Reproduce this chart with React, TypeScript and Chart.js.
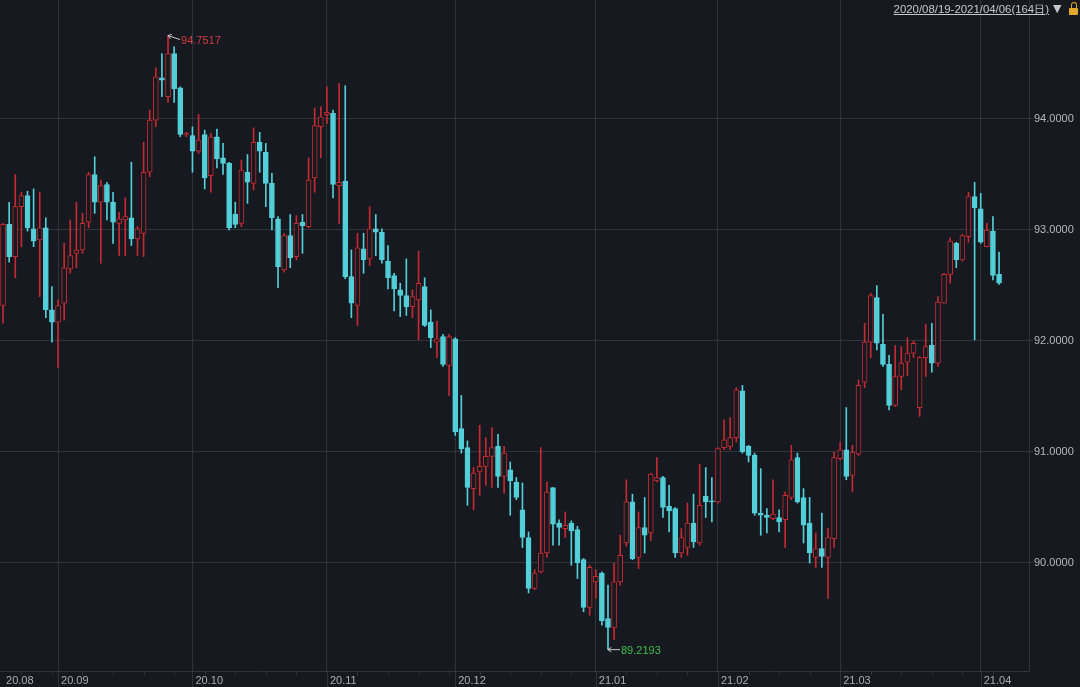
import React, { useEffect, useRef } from "react";
import { Chart, registerables } from "chart.js";
Chart.register(...registerables);

// ---- data ----
const openP = [
  92.32, 93.05, 92.76, 93.21, 93.31, 93.01, 92.91, 93.02, 92.28, 92.17,
  92.34, 92.65, 92.79, 92.82, 93.07, 93.50, 93.25, 93.41, 93.25, 93.06,
  93.09, 93.11, 92.92, 92.97, 93.52, 93.99, 94.37, 94.20, 94.59, 94.28,
  93.86, 93.85, 93.71, 93.86, 93.49, 93.84, 93.65, 93.60, 93.14, 93.06,
  93.52, 93.42, 93.79, 93.70, 93.42, 93.10, 92.64, 92.95, 92.76, 93.07,
  93.03, 93.47, 93.93, 94.04, 94.05, 93.40, 93.44, 92.58, 92.32, 92.83,
  92.74, 93.01, 92.98, 92.72, 92.59, 92.46, 92.41, 92.31, 92.37, 92.49,
  92.17, 91.99, 92.04, 91.78, 92.02, 91.21, 91.04, 90.67, 90.82, 90.87,
  90.96, 91.05, 90.78, 90.84, 90.73, 90.48, 90.23, 89.77, 89.92, 90.09,
  90.68, 90.36, 90.31, 90.36, 90.30, 90.03, 89.60, 89.83, 89.91, 89.50,
  89.42, 89.83, 90.18, 90.55, 90.05, 90.32, 90.27, 90.74, 90.77, 90.51,
  90.49, 90.09, 90.14, 90.36, 90.18, 90.60, 90.56, 90.55, 91.04, 91.05,
  91.13, 91.55, 91.05, 90.97, 90.45, 90.43, 90.40, 90.41, 90.39, 90.59,
  90.95, 90.59, 90.36, 90.05, 90.13, 90.05, 90.22, 90.94, 91.02, 90.79,
  90.98, 91.63, 91.99, 92.39, 91.97, 91.79, 91.42, 91.68, 91.81, 91.89,
  91.40, 91.85, 91.96, 91.80, 92.34, 92.60, 92.88, 92.73, 92.94, 93.30,
  93.19, 92.85, 92.99, 92.60,
];
const highP = [
  93.06, 93.25, 93.50, 93.34, 93.35, 93.37, 93.34, 93.11, 92.49, 92.37,
  92.88, 93.09, 93.25, 93.15, 93.52, 93.66, 93.45, 93.43, 93.34, 93.16,
  93.29, 93.61, 93.03, 93.79, 94.08, 94.46, 94.59, 94.7517, 94.65, 94.29,
  93.88, 93.93, 94.04, 93.90, 93.87, 93.91, 93.78, 93.61, 93.25, 93.63,
  93.68, 93.92, 93.88, 93.78, 93.51, 93.12, 92.97, 93.14, 93.13, 93.14,
  93.65, 94.10, 94.11, 94.29, 94.08, 94.32, 94.30, 92.82, 92.97, 92.97,
  93.21, 93.14, 93.01, 92.86, 92.61, 92.52, 92.74, 92.46, 92.81, 92.57,
  92.28, 92.18, 92.06, 92.06, 92.03, 91.51, 91.10, 90.86, 91.24, 91.13,
  91.22, 91.16, 91.05, 90.91, 90.77, 90.72, 90.28, 89.94, 91.04, 90.73,
  90.68, 90.39, 90.46, 90.38, 90.33, 90.04, 89.98, 89.94, 89.92, 89.80,
  90.00, 90.25, 90.75, 90.62, 90.46, 90.59, 90.81, 90.95, 90.78, 90.70,
  90.50, 90.31, 90.54, 90.62, 90.89, 90.86, 90.77, 91.04, 91.29, 91.31,
  91.58, 91.60, 91.06, 90.99, 90.85, 90.49, 90.75, 90.48, 90.64, 91.06,
  90.99, 90.67, 90.59, 90.27, 90.45, 90.31, 91.00, 91.09, 91.40, 91.06,
  91.65, 92.16, 92.43, 92.50, 92.24, 91.87, 91.96, 91.95, 92.03, 92.00,
  91.86, 92.15, 92.16, 92.40, 92.61, 92.93, 92.89, 92.96, 93.34, 93.43,
  93.33, 93.06, 93.12, 92.80,
];
const lowP = [
  92.16, 92.71, 92.57, 92.85, 92.99, 92.85, 92.40, 92.21, 91.99, 91.76,
  92.19, 92.61, 92.66, 92.79, 93.02, 93.15, 92.70, 93.09, 92.88, 92.77,
  92.77, 92.86, 92.77, 92.76, 93.48, 93.93, 94.20, 94.15, 94.15, 93.84,
  93.84, 93.52, 93.69, 93.37, 93.34, 93.56, 93.50, 93.00, 93.02, 93.03,
  93.24, 93.36, 93.52, 93.21, 93.00, 92.48, 92.62, 92.66, 92.73, 92.79,
  93.02, 93.34, 93.65, 93.96, 93.29, 93.06, 92.56, 92.21, 92.14, 92.61,
  92.68, 92.77, 92.70, 92.47, 92.27, 92.22, 92.23, 92.21, 92.01, 92.13,
  91.94, 91.85, 91.77, 91.51, 91.15, 90.99, 90.52, 90.48, 90.61, 90.70,
  90.68, 90.68, 90.63, 90.43, 90.57, 90.14, 89.73, 89.76, 89.91, 90.05,
  90.16, 90.16, 90.23, 89.98, 89.86, 89.56, 89.53, 89.68, 89.44, 89.2193,
  89.31, 89.80, 90.15, 90.03, 89.95, 90.09, 90.20, 90.73, 90.41, 90.28,
  90.05, 90.05, 90.07, 90.14, 90.16, 90.41, 90.37, 90.54, 91.02, 91.02,
  91.09, 90.99, 90.91, 90.43, 90.25, 90.27, 90.39, 90.28, 90.14, 90.57,
  90.54, 90.18, 90.00, 89.96, 89.96, 89.68, 90.14, 90.93, 90.75, 90.64,
  90.97, 91.58, 91.85, 91.92, 91.77, 91.38, 91.41, 91.56, 91.69, 91.85,
  91.32, 91.68, 91.72, 91.77, 92.34, 92.52, 92.66, 92.72, 92.89, 92.01,
  92.88, 92.85, 92.55, 92.51,
];
const closeP = [
  93.05, 92.76, 93.21, 93.31, 93.02, 92.90, 93.02, 92.28, 92.17, 92.32,
  92.66, 92.77, 92.82, 93.06, 93.50, 93.25, 93.40, 93.25, 93.07, 93.10,
  93.12, 92.92, 93.01, 93.52, 93.99, 94.38, 94.35, 94.59, 94.27, 93.86,
  93.87, 93.71, 93.81, 93.47, 93.84, 93.64, 93.60, 93.02, 93.05, 93.54,
  93.43, 93.79, 93.71, 93.42, 93.11, 92.67, 92.95, 92.75, 93.06, 93.04,
  93.45, 93.94, 94.02, 94.06, 93.41, 93.43, 92.58, 92.34, 92.84, 92.73,
  93.01, 92.98, 92.73, 92.57, 92.47, 92.41, 92.31, 92.40, 92.52, 92.14,
  92.03, 92.02, 91.79, 92.04, 91.18, 91.03, 90.68, 90.81, 90.87, 90.96,
  91.04, 90.78, 90.99, 90.74, 90.59, 90.23, 89.77, 89.91, 90.09, 90.64,
  90.35, 90.32, 90.34, 90.29, 90.00, 89.60, 89.96, 89.88, 89.48, 89.42,
  89.83, 90.07, 90.55, 90.04, 90.32, 90.25, 90.80, 90.77, 90.50, 90.47,
  90.09, 90.23, 90.36, 90.19, 90.52, 90.55, 90.55, 91.03, 91.11, 91.13,
  91.56, 91.00, 90.97, 90.45, 90.43, 90.41, 90.44, 90.37, 90.61, 90.93,
  90.55, 90.34, 90.09, 90.13, 90.06, 90.23, 90.95, 91.02, 90.78, 91.00,
  91.60, 91.99, 92.41, 91.98, 91.79, 91.42, 91.68, 91.80, 91.89, 91.98,
  91.85, 91.95, 91.80, 92.35, 92.60, 92.90, 92.73, 92.95, 93.30, 93.20,
  92.89, 93.00, 92.59, 92.52,
];
const yTickValues = [90, 91, 92, 93, 94];
const monthLabels = ["20.08", "20.09", "20.10", "20.11", "20.12", "21.01", "21.02", "21.03", "21.04"];
const startDate = "2020-08-19";
const endDate = "2021-04-06";
const holidays = ["2021-01-01"];
const rangeLabel = "2020/08/19-2021/04/06(164日)";

// ---- styles ----
const BG = "#161920";
const GRID = "#2f333b";
const RED = "#c42a30";
const CYAN = "#52cfd8";
const TEXT = "#a9adb5";
const W = 1080;
const H = 687;

function buildDays(): Date[] {
  const out: Date[] = [];
  const d = new Date(startDate + "T00:00:00Z");
  const end = new Date(endDate + "T00:00:00Z");
  while (d <= end) {
    const wd = d.getUTCDay();
    const iso = d.toISOString().slice(0, 10);
    if (wd !== 0 && wd !== 6 && !holidays.includes(iso)) out.push(new Date(d));
    d.setUTCDate(d.getUTCDate() + 1);
  }
  return out;
}

export default function App() {
  const ref = useRef<HTMLCanvasElement | null>(null);

  useEffect(() => {
    const canvas = ref.current;
    if (!canvas) return;
    const days = buildDays();
    const monthIdx: number[] = [];
    const weekIdx: number[] = [];
    days.forEach((d, i) => {
      if (i === 0 || d.getUTCMonth() !== days[i - 1].getUTCMonth()) monthIdx.push(i);
      if (d.getUTCDay() === 1) weekIdx.push(i);
    });
    const n = openP.length;
    const up = openP.map((o, i) => closeP[i] >= o);

    const extras = {
      id: "extras",
      afterDraw(chart: any) {
        const ctx = chart.ctx;
        const xs = chart.scales.x;
        const ys = chart.scales.y;
        const bottom = chart.chartArea.bottom;
        ctx.save();
        ctx.strokeStyle = GRID;
        ctx.lineWidth = 1;
        monthIdx.forEach((i) => {
          if (i === 0) return;
          const px = Math.round(xs.getPixelForValue(i)) + 0.5;
          ctx.beginPath();
          ctx.moveTo(px, bottom);
          ctx.lineTo(px, H);
          ctx.stroke();
        });
        weekIdx.forEach((i) => {
          const px = Math.round(xs.getPixelForValue(i)) + 0.5;
          ctx.beginPath();
          ctx.moveTo(px, bottom);
          ctx.lineTo(px, bottom + 4);
          ctx.stroke();
        });
        let hi = 0;
        let lo = 0;
        for (let i = 0; i < n; i++) {
          if (highP[i] > highP[hi]) hi = i;
          if (lowP[i] < lowP[lo]) lo = i;
        }
        const drawMark = (idx: number, val: number, color: string, dy: number) => {
          const px = xs.getPixelForValue(idx);
          const py = ys.getPixelForValue(val);
          const ex = px + 12;
          const ey = py + dy;
          ctx.strokeStyle = "#c9c9c9";
          ctx.lineWidth = 1;
          ctx.beginPath();
          ctx.moveTo(px, py);
          ctx.lineTo(ex, ey);
          ctx.stroke();
          const ang = Math.atan2(ey - py, ex - px);
          ctx.beginPath();
          ctx.moveTo(px + Math.cos(ang + 0.6) * 4, py + Math.sin(ang + 0.6) * 4);
          ctx.lineTo(px, py);
          ctx.lineTo(px + Math.cos(ang - 0.6) * 4, py + Math.sin(ang - 0.6) * 4);
          ctx.stroke();
          ctx.fillStyle = color;
          ctx.font = "11px 'Liberation Sans', Arial, sans-serif";
          ctx.textAlign = "left";
          ctx.textBaseline = "middle";
          ctx.fillText(val.toFixed(4), ex + 1, ey + 1);
        };
        drawMark(hi, highP[hi], "#d83a3f", 4);
        drawMark(lo, lowP[lo], "#3fbf4c", 0);
        ctx.restore();
      },
    };

    const chart = new Chart(canvas, {
      type: "bar",
      data: {
        datasets: [
          {
            label: "body",
            data: openP.map((o, i) => ({ x: i, y: [o, closeP[i]] })),
            backgroundColor: up.map((u) => (u ? BG : CYAN)),
            borderColor: up.map((u) => (u ? RED : CYAN)),
            borderWidth: 1,
            borderSkipped: false,
            barThickness: 5,
            minBarLength: 1,
            grouped: false,
            order: 0,
          } as any,
          {
            label: "wick",
            data: lowP.map((l, i) => ({ x: i, y: [l, highP[i]] })),
            backgroundColor: up.map((u) => (u ? RED : CYAN)),
            borderWidth: 0,
            barThickness: 1,
            grouped: false,
            order: 1,
          } as any,
        ],
      },
      options: {
        responsive: false,
        animation: false,
        maintainAspectRatio: false,
        layout: { padding: 0 },
        plugins: { legend: { display: false }, tooltip: { enabled: false } },
        scales: {
          x: {
            type: "linear",
            min: -0.5,
            max: 167.9,
            offset: false,
            grid: {
              offset: false,
              color: (c: any) => (c.tick && c.tick.value === 0 ? "rgba(0,0,0,0)" : GRID),
              drawTicks: false,
            },
            border: { display: true, color: GRID },
            afterBuildTicks: (s: any) => {
              s.ticks = monthIdx.map((v) => ({ value: v }));
            },
            afterFit: (s: any) => {
              s.height = 16;
              s.paddingLeft = 0;
              s.paddingRight = 0;
            },
            ticks: {
              autoSkip: false,
              maxRotation: 0,
              minRotation: 0,
              align: "start",
              labelOffset: 3,
              padding: 3,
              color: TEXT,
              font: { family: "'Liberation Sans Narrow', 'Liberation Sans', Arial, sans-serif", size: 11 },
              callback: (v: any) => {
                const k = monthIdx.indexOf(Number(v));
                return k >= 0 ? monthLabels[k] : "";
              },
            },
          } as any,
          y: {
            position: "right",
            min: 89.027,
            max: 95.072,
            grid: { color: GRID, drawTicks: true, tickLength: 4, offset: false },
            border: { display: true, color: GRID },
            afterBuildTicks: (s: any) => {
              s.ticks = yTickValues.map((v) => ({ value: v }));
            },
            afterFit: (s: any) => {
              s.width = W - 1029;
              s.paddingTop = 0;
              s.paddingBottom = 0;
            },
            ticks: {
              crossAlign: "near",
              padding: 1,
              color: "#b4b8bf",
              font: { family: "'Liberation Sans', Arial, sans-serif", size: 11 },
              callback: (v: any) => Number(v).toFixed(4),
            },
          } as any,
        },
      },
      plugins: [extras],
    });
    return () => chart.destroy();
  }, []);

  return (
    <div style={{ position: "fixed", left: 0, top: 0, width: W, height: H, background: BG, overflow: "hidden" }}>
      <canvas ref={ref} width={W} height={H} style={{ display: "block", width: W, height: H }} />
      <div
        style={{
          position: "absolute",
          right: W - 1049,
          top: 2,
          font: "11.4px 'Liberation Sans', Arial, sans-serif",
          color: "#c3c7ce",
          textDecoration: "underline",
          whiteSpace: "nowrap",
          lineHeight: "14px",
        }}
      >
        {rangeLabel}
      </div>
      <div
        style={{
          position: "absolute",
          left: 1053,
          top: 2,
          font: "11px 'DejaVu Sans', sans-serif",
          color: "#c3c7ce",
          lineHeight: "14px",
        }}
      >
        ▼
      </div>
      <div style={{ position: "absolute", left: 1069, top: 2, width: 10, height: 14 }}>
        <div
          style={{
            position: "absolute",
            left: 2,
            top: 0,
            width: 4,
            height: 5,
            border: "1.5px solid #d9a326",
            borderBottom: "none",
            borderRadius: "3px 3px 0 0",
          }}
        />
        <div style={{ position: "absolute", left: 0, top: 6, width: 9, height: 7, background: "#e2a82a", borderRadius: 1 }} />
      </div>
    </div>
  );
}
